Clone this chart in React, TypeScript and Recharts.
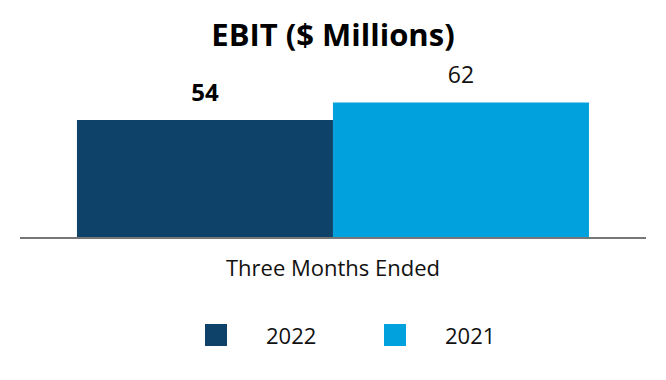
import { BarChart, Bar, XAxis, YAxis, Legend, LabelList } from 'recharts'

const categories = ['Three Months Ended']
const series = ['2022', '2021']
const values2022 = [54]
const values2021 = [62]
const colors = ['#0f4269', '#00a1dc']

const data = categories.map((name, i) => ({
  name,
  [series[0]]: values2022[i],
  [series[1]]: values2021[i]
}))

const font = '"Open Sans", sans-serif'

function LegendBox() {
  return (
    <div style={{ width: 626, height: 60, position: 'relative', fontFamily: font }}>
      {series.map((s, i) => (
        <div
          key={s}
          style={{ position: 'absolute', left: 185 + i * 179, top: 2, display: 'flex', alignItems: 'center' }}
        >
          <span style={{ width: 22, height: 22, background: colors[i], display: 'inline-block' }} />
          <span style={{ marginLeft: 39, fontSize: 22, color: '#111', lineHeight: '26px' }}>{s}</span>
        </div>
      ))}
    </div>
  )
}

export default function App() {
  return (
    <div style={{ position: 'absolute', left: 0, top: 0, width: 666, height: 380, background: '#fff' }}>
      <div
        style={{
          position: 'absolute', left: 0, top: 13, width: 666, textAlign: 'center',
          fontFamily: font, fontWeight: 700, fontSize: 31, color: '#000', lineHeight: '42px'
        }}
      >
        EBIT ($ Millions)
      </div>
      <BarChart
        width={666}
        height={380}
        data={data}
        margin={{ top: 63, right: 20, bottom: 0, left: 20 }}
        barCategoryGap="9.1%"
        barGap={0}
      >
        <XAxis
          dataKey="name"
          height={82}
          tickLine={false}
          tickSize={0}
          tickMargin={22}
          axisLine={{ stroke: '#777', strokeWidth: 2 }}
          tick={{ fill: '#111', fontSize: 22, fontFamily: font }}
        />
        <YAxis hide domain={[0, 80]} />
        <Legend verticalAlign="bottom" height={60} content={<LegendBox />} />
        <Bar dataKey={series[0]} fill={colors[0]} isAnimationActive={false}>
          <LabelList
            dataKey={series[0]}
            position="top"
            offset={19}
            style={{ fill: '#000', fontSize: 24, fontWeight: 700, fontFamily: font }}
          />
        </Bar>
        <Bar dataKey={series[1]} fill={colors[1]} isAnimationActive={false}>
          <LabelList
            dataKey={series[1]}
            position="top"
            offset={19}
            style={{ fill: '#111', fontSize: 23, fontWeight: 400, fontFamily: font }}
          />
        </Bar>
      </BarChart>
    </div>
  )
}
